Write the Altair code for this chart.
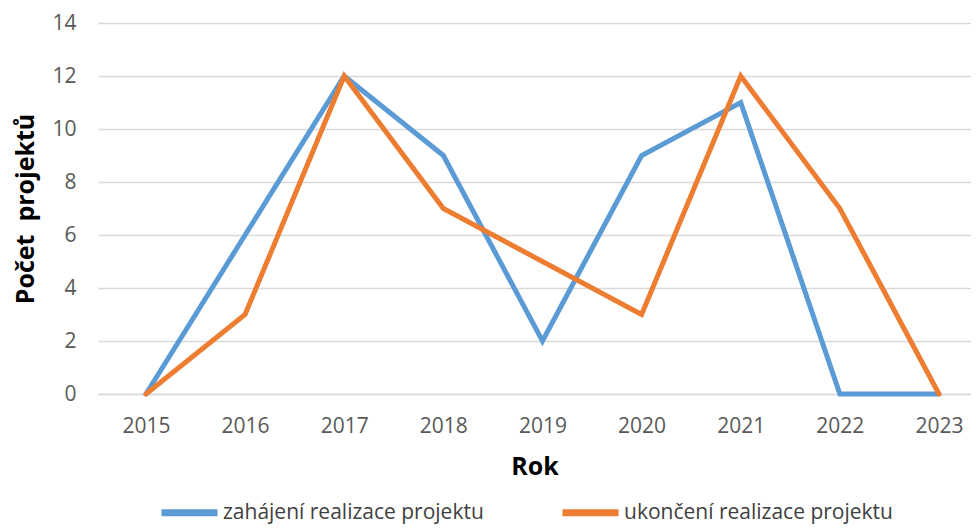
import altair as alt
import pandas as pd

years = [2015, 2016, 2017, 2018, 2019, 2020, 2021, 2022, 2023]
zahajeni = [0, 6, 12, 9, 2, 9, 11, 0, 0]
ukonceni = [0, 3, 12, 7, 5, 3, 12, 7, 0]
series_names = ["zahájení realizace projektu", "ukončení realizace projektu"]
colors = ["#5B9BD5", "#ED7D31"]
y_ticks = [0, 2, 4, 6, 8, 10, 12, 14]

rows = []
for i, y in enumerate(years):
    rows.append({"Rok": y, "Počet": zahajeni[i], "Řada": series_names[0], "o": 0})
for i, y in enumerate(years):
    rows.append({"Rok": y, "Počet": ukonceni[i], "Řada": series_names[1], "o": 1})
df = pd.DataFrame(rows)

FONT = "Open Sans"

chart = alt.Chart(df).mark_line(strokeWidth=5, strokeCap="round").encode(
    x=alt.X("Rok:Q",
            scale=alt.Scale(domain=[2014.516, 2023.323], nice=False, zero=False),
            axis=alt.Axis(values=years, format="d", grid=False, ticks=False,
                          domainColor="#D9D9D9", domainWidth=1.5,
                          labelFont=FONT, labelFontSize=21, labelColor="#595959",
                          labelPadding=21, title="Rok", titleFont=FONT,
                          titleFontSize=25, titleFontWeight="bold", titleColor="#000000",
                          titlePadding=18)),
    y=alt.Y("Počet:Q",
            scale=alt.Scale(domain=[0, 14], nice=False),
            axis=alt.Axis(values=y_ticks, grid=True, gridColor="#D9D9D9", gridWidth=1.5,
                          ticks=False, domain=False,
                          labelFont=FONT, labelFontSize=21, labelColor="#595959",
                          labelPadding=22, title="Počet\u00a0 projektů", titleFont=FONT,
                          titleFontSize=25, titleFontWeight="bold", titleColor="#000000",
                          titlePadding=13)),
    color=alt.Color("Řada:N",
                    scale=alt.Scale(domain=series_names, range=colors),
                    legend=alt.Legend(title=None, orient="none", direction="horizontal",
                                      legendX=60, legendY=458,
                                      symbolType="stroke", symbolSize=3136,
                                      symbolStrokeWidth=7, labelFont=FONT,
                                      labelFontSize=21, labelColor="#404040",
                                      labelLimit=500,
                                      labelOffset=2, columnPadding=64)),
    order="o:Q",
).properties(
    width=873,
    height=371,
    autosize=alt.AutoSizeParams(type="none"),
    padding={"left": 90, "top": 15, "right": 0, "bottom": 130},
).configure_view(stroke=None)

chart.save("out.html", embed_options={"renderer": "svg", "actions": False})
